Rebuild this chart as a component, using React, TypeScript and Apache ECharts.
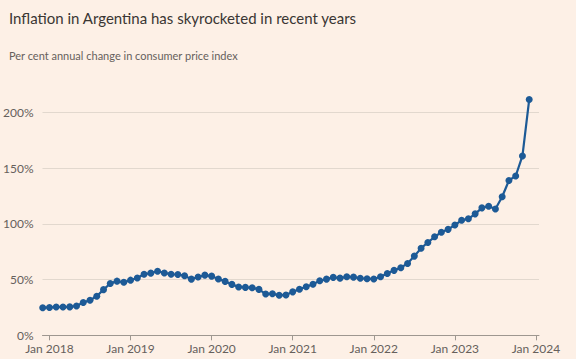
import React, { useEffect, useRef } from "react";
import * as echarts from "echarts";

// Months since Jan 2018 (Dec 2017 = -1)
const monthIndex: number[] = Array.from({ length: 73 }, (_, i) => i - 1);

// Per cent annual change in CPI, Dec 2017 .. Dec 2023
const inflation: number[] = [
  24.8, 25.0, 25.4, 25.4, 25.5, 26.3, 29.5, 31.5, 35.0, 41.0, 46.5, 48.6, 47.6,
  49.5, 51.4, 54.8, 55.8, 57.5, 56.0, 54.8, 54.6, 53.5, 50.4, 52.3, 54.0,
  53.1, 50.5, 48.4, 45.7, 43.4, 43.0, 42.7, 41.2, 37.0, 37.3, 35.9, 36.2,
  39.0, 41.4, 43.6, 45.8, 48.9, 50.4, 52.0, 51.3, 52.5, 52.2, 51.2, 50.8,
  50.6, 52.5, 55.5, 58.3, 60.7, 64.5, 71.1, 78.2, 83.3, 88.4, 92.5, 95.1,
  99.0, 103.2, 104.6, 109.0, 114.4, 115.9, 113.4, 124.4, 139.0, 143.0, 161.0, 211.6,
];

const xTickValues: number[] = [0, 12, 24, 36, 48, 60, 72];
const xTickLabels: string[] = ["Jan 2018", "Jan 2019", "Jan 2020", "Jan 2021", "Jan 2022", "Jan 2023", "Jan 2024"];

const titleText = "Inflation in Argentina has skyrocketed in recent years";
const subtitleText = "Per cent annual change in consumer price index";

const FONT = "Lato, 'Open Sans', sans-serif";

export default function App() {
  const ref = useRef<HTMLDivElement>(null);

  useEffect(() => {
    if (!ref.current) return;
    const chart = echarts.init(ref.current, undefined, { renderer: "svg" });
    const data = monthIndex.map((m, i) => [m, inflation[i]]);
    chart.setOption({
      animation: false,
      backgroundColor: "#fdf0e6",
      title: [
        {
          text: titleText,
          left: 4,
          top: 5,
          textStyle: { fontFamily: FONT, fontSize: 15, fontWeight: "normal", color: "#3a3633" },
        },
        {
          text: subtitleText,
          left: 4,
          top: 45,
          textStyle: { fontFamily: FONT, fontSize: 11, fontWeight: "normal", color: "#66605c" },
        },
      ],
      grid: { left: 42, right: 37, top: 112.5, bottom: 23.7 },
      xAxis: {
        type: "value",
        min: -1.03,
        max: 72.45,
        splitLine: { show: false },
        axisLine: { show: true, lineStyle: { color: "#9e9790", width: 1 } },
        axisTick: {
          show: true,
          length: 5,
          customValues: xTickValues,
          lineStyle: { color: "#9e9790" },
        },
        axisLabel: {
          customValues: xTickValues,
          formatter: (v: number) => xTickLabels[xTickValues.indexOf(Math.round(v))] ?? "",
          color: "#66605c",
          fontFamily: FONT,
          fontSize: 12,
          margin: 7,
        },
      },
      yAxis: {
        type: "value",
        min: 0,
        max: 200,
        interval: 50,
        axisLine: { show: false },
        axisTick: { show: false },
        splitLine: { show: true, lineStyle: { color: "#e2d8ce", width: 1 } },
        axisLabel: {
          formatter: "{value}%",
          color: "#66605c",
          fontFamily: FONT,
          fontSize: 12,
          margin: 9,
        },
      },
      series: [
        {
          type: "line",
          data,
          clip: false,
          symbol: "circle",
          symbolSize: 7,
          showSymbol: true,
          itemStyle: { color: "#1d5a96" },
          lineStyle: { color: "#1d5a96", width: 2.2 },
        },
      ],
    });
    return () => chart.dispose();
  }, []);

  return (
    <div style={{ position: "fixed", left: 0, top: 0, width: 584, height: 359, background: "#ffffff" }}>
      <div ref={ref} style={{ width: 576, height: 359 }} />
    </div>
  );
}
